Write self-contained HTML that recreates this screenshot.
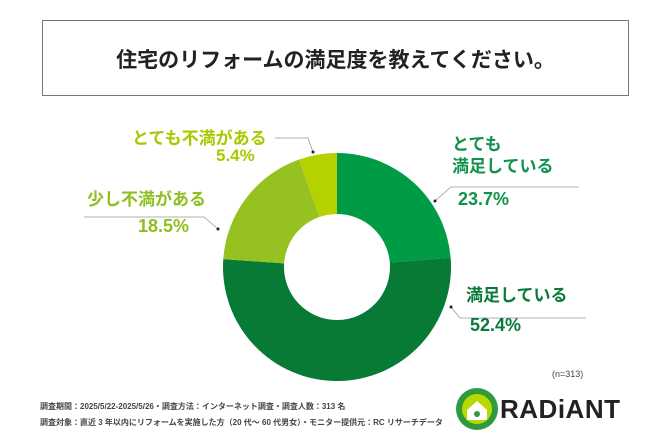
<!DOCTYPE html>
<html><head><meta charset="utf-8"><style>
body{margin:0;background:#fff;font-family:"Liberation Sans","Noto Sans CJK JP",sans-serif}
#wrap{position:relative;width:672px;height:448px;overflow:hidden;background:#fff}
.t{position:absolute;font-weight:bold;white-space:nowrap}
</style></head><body>
<div id="wrap">
<div style="position:absolute;left:42px;top:20px;width:587px;height:76px;border:1px solid #777;box-sizing:border-box"></div>
<div class="t" style="left:42px;width:587px;top:44px;text-align:center;font-size:21px;color:#222">住宅のリフォームの満足度を教えてください。</div>
<svg id="svg" width="672" height="448" style="position:absolute;left:0;top:0"></svg>
<div class="t" style="left:452px;top:134px;font-size:17px;line-height:22px;color:#119149">とても<br>満足している</div>
<div class="t" style="left:458px;top:189px;font-size:18px;color:#119149">23.7%</div>
<div class="t" style="left:466px;top:281px;font-size:17px;color:#0a7a38">満足している</div>
<div class="t" style="left:470px;top:315px;font-size:18px;color:#0a7a38">52.4%</div>
<div class="t" style="left:87px;top:185px;font-size:17px;color:#8fbf1f">少し不満がある</div>
<div class="t" style="left:138px;top:216px;font-size:18px;color:#8fbf1f">18.5%</div>
<div class="t" style="left:132px;top:124px;font-size:17px;color:#a9c800">とても不満がある</div>
<div class="t" style="left:216px;top:146px;font-size:17px;color:#a9c800">5.4%</div>
<div class="t" style="left:552px;top:369px;font-size:9px;font-weight:normal;color:#444">(n=313)</div>
<div class="t" style="left:40px;top:401px;font-size:8px;color:#444">調査期間：2025/5/22-2025/5/26・調査方法：インターネット調査・調査人数：313 名</div>
<div class="t" style="left:40px;top:417px;font-size:8px;color:#444">調査対象：直近 3 年以内にリフォームを実施した方（20 代～ 60 代男女）・モニター提供元：RC リサーチデータ</div>
<svg width="44" height="46" style="position:absolute;left:455px;top:386px"><circle cx="22" cy="23" r="21" fill="#2e9b3e"/><circle cx="22" cy="23" r="15" fill="#b8d900"/><path d="M12 24 L22 15 L32 24 L32 34 L12 34Z" fill="#fff"/><circle cx="22" cy="28" r="3" fill="#2e9b3e"/></svg>
<div class="t" style="left:500px;top:394px;font-size:26px;color:#222;letter-spacing:0.5px">RADiANT</div>
</div>
<script>
const categories=["とても満足している","満足している","少し不満がある","とても不満がある"];
const values=[23.7,52.4,18.5,5.4];
const colors=["#009b45","#077a35","#95c221","#b5d100"];
const svg=document.getElementById('svg');
const NS="http://www.w3.org/2000/svg";
const cx=337,cy=267,R=114,r=53;
const total=values.reduce((a,b)=>a+b,0);
function pt(a,rad){return [cx+rad*Math.sin(a),cy-rad*Math.cos(a)];}
let a0=0;
values.forEach((v,i)=>{
  const a1=a0+v/total*2*Math.PI;
  const large=(a1-a0)>Math.PI?1:0;
  const [x0,y0]=pt(a0,R),[x1,y1]=pt(a1,R),[x2,y2]=pt(a1,r),[x3,y3]=pt(a0,r);
  const p=document.createElementNS(NS,'path');
  p.setAttribute('d',`M${x0},${y0}A${R},${R} 0 ${large} 1 ${x1},${y1}L${x2},${y2}A${r},${r} 0 ${large} 0 ${x3},${y3}Z`);
  p.setAttribute('fill',colors[i]);
  
  
  svg.appendChild(p);
  a0=a1;
});
const leaders=[[[435,201],[451,187],[579,187]],[[451,307],[460,318],[586,318]],[[218,229],[204,217],[84,217]],[[313,152],[308,138],[275,138]]];
leaders.forEach((l,i)=>{
  const pl=document.createElementNS(NS,'polyline');
  pl.setAttribute('points',l.map(p=>p.join(',')).join(' '));
  pl.setAttribute('fill','none');pl.setAttribute('stroke','#999');pl.setAttribute('stroke-width','0.8');
  
  
  svg.appendChild(pl);
  const c=document.createElementNS(NS,'circle');
  c.setAttribute('cx',l[0][0]);c.setAttribute('cy',l[0][1]);c.setAttribute('r',1.5);c.setAttribute('fill','#222');
  
  
  svg.appendChild(c);
});
</script>
</body></html>
